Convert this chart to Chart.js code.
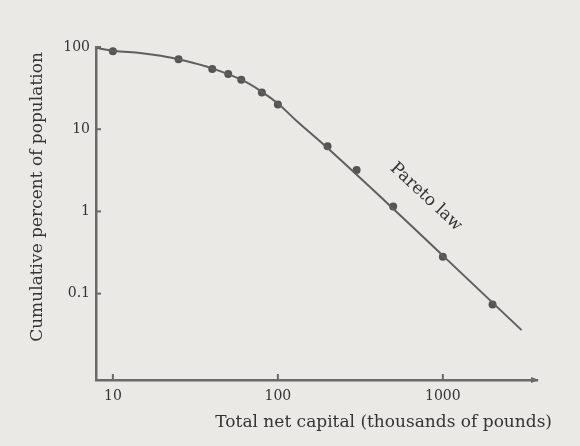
<!DOCTYPE html>
<html>
<head>
<meta charset="utf-8">
<script src="https://cdn.jsdelivr.net/npm/chart.js@4/dist/chart.umd.min.js"></script>
<style>
  body { margin: 0; background: #ebe9e5; }
  #wrap { width: 580px; height: 446px; }
</style>
</head>
<body>
<div id="wrap"><canvas id="pareto"></canvas></div>
<script>
// observed points (capital in thousands of pounds, cumulative % of population)
var capital = [10, 25, 40, 50, 60, 80, 100, 200, 300, 500, 1000, 2000];
var percent = [89, 71, 54, 47, 40, 28, 20, 6.2, 3.2, 1.15, 0.28, 0.074];
// the drawn curve
var curveX = [7.9, 10, 15, 20, 25, 40, 60, 80, 100, 130, 200, 500, 1000, 3000];
var curveY = [98, 90, 84, 77.5, 71, 55, 40, 28.5, 20.5, 12.6, 5.9, 1.08, 0.29, 0.036];
var xTicks = [10, 100, 1000];
var yTicks = [0.1, 1, 10, 100];

var ink = '#333333';
var axisCol = '#6a6a6a';
var serif = '"DejaVu Serif", "Liberation Serif", serif';

function seg(ctx, x1, y1, x2, y2) {
    ctx.beginPath(); ctx.moveTo(x1, y1); ctx.lineTo(x2, y2); ctx.stroke();
}

var decor = {
    id: 'decor',
    afterDraw: function (chart) {
        var ctx = chart.ctx, a = chart.chartArea;
        var xs = chart.scales.x, ys = chart.scales.y;
        ctx.save();
        ctx.strokeStyle = axisCol;
        ctx.lineWidth = 2;
        // ticks point inward
        xTicks.forEach(function (v) { var p = xs.getPixelForValue(v); seg(ctx, p, a.bottom, p, a.bottom - 6); });
        yTicks.forEach(function (v) { var p = ys.getPixelForValue(v); seg(ctx, a.left, p, a.left + 5, p); });
        // arrow head at end of x axis
        ctx.fillStyle = axisCol;
        ctx.beginPath();
        ctx.moveTo(a.right + 2, a.bottom);
        ctx.lineTo(a.right - 6, a.bottom - 3);
        ctx.lineTo(a.right - 6, a.bottom + 3);
        ctx.closePath(); ctx.fill();

        ctx.fillStyle = ink;
        ctx.font = '17px ' + serif;
        ctx.textBaseline = 'middle';
        ctx.textAlign = 'right';
        ctx.fillText('Total net capital (thousands of pounds)', a.right + 15, 423);

        ctx.save();
        ctx.translate(38, 197);
        ctx.rotate(-Math.PI / 2);
        ctx.textAlign = 'center';
        ctx.fillText('Cumulative percent of population', 0, 0);
        ctx.restore();

        // label along the straight part
        var p1x = xs.getPixelForValue(200), p1y = ys.getPixelForValue(5.9);
        var p2x = xs.getPixelForValue(1000), p2y = ys.getPixelForValue(0.29);
        var ang = Math.atan2(p2y - p1y, p2x - p1x);
        ctx.save();
        ctx.translate(xs.getPixelForValue(790), ys.getPixelForValue(1.5));
        ctx.rotate(ang);
        ctx.textAlign = 'center';
        ctx.fillText('Pareto law', 0, 0);
        ctx.restore();
        ctx.restore();
    }
};

var ctx = document.getElementById('pareto').getContext('2d');
var chart = new Chart(ctx, {
    type: 'scatter',
    data: {
        datasets: [
            {
                label: 'curve',
                data: curveX.map(function (x, i) { return {x: x, y: curveY[i]}; }),
                showLine: true,
                borderColor: '#5e5e5e',
                borderWidth: 2,
                pointRadius: 0,
                tension: 0.4,
                clip: false
            },
            {
                label: 'observed',
                data: capital.map(function (x, i) { return {x: x, y: percent[i]}; }),
                backgroundColor: '#545454',
                borderWidth: 0,
                pointRadius: 4
            }
        ]
    },
    options: {
        responsive: true,
        maintainAspectRatio: false,
        animation: false,
        layout: {padding: {left: 0, top: 47, right: 43, bottom: 0}},
        plugins: {legend: {display: false}, tooltip: {enabled: false}},
        scales: {
            x: {
                type: 'logarithmic',
                min: 7.9,
                max: 3720,
                afterBuildTicks: function (s) { s.ticks = xTicks.map(function (v) { return {value: v}; }); },
                afterFit: function (s) { s.height = 66; },
                grid: {drawOnChartArea: false, drawTicks: false},
                border: {color: axisCol, width: 2.5},
                ticks: {
                    padding: 8,
                    color: ink,
                    font: {family: serif, size: 14},
                    maxRotation: 0,
                    callback: function (v) { return String(v); }
                }
            },
            y: {
                type: 'logarithmic',
                min: 0.0089,
                max: 100,
                afterBuildTicks: function (s) { s.ticks = yTicks.map(function (v) { return {value: v}; }); },
                afterFit: function (s) { s.width = 96; },
                grid: {drawOnChartArea: false, drawTicks: false},
                border: {color: axisCol, width: 2.5},
                ticks: {
                    padding: 6,
                    color: ink,
                    font: {family: serif, size: 14},
                    callback: function (v) { return String(v); }
                }
            }
        }
    },
    plugins: [decor]
});
</script>
</body>
</html>
